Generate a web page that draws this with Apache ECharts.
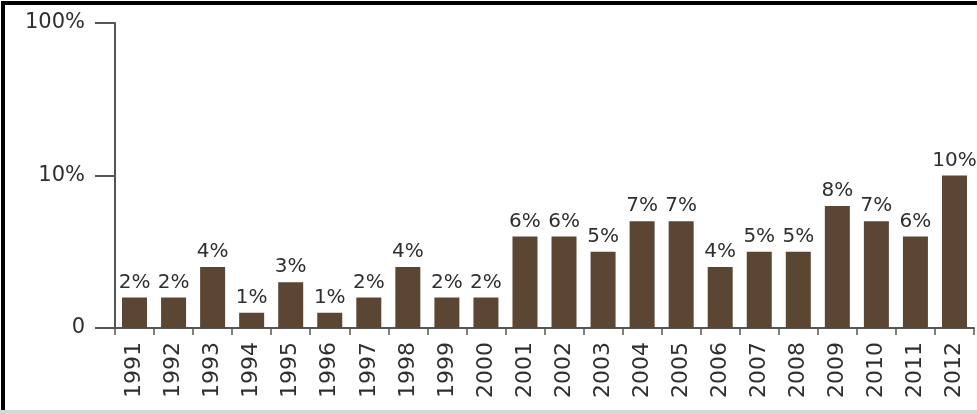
<!DOCTYPE html>
<html>
<head>
<meta charset="utf-8">
<script src="https://cdn.jsdelivr.net/npm/echarts@6/dist/echarts.min.js"></script>
<style>
  html, body { margin: 0; padding: 0; background: #fff; }
  #chart { width: 977px; height: 414px; }
</style>
</head>
<body>
<div id="chart"></div>
<script>
// Years on the category axis
const years = ['1991', '1992', '1993', '1994', '1995', '1996', '1997', '1998', '1999', '2000',
  '2001', '2002', '2003', '2004', '2005', '2006', '2007', '2008', '2009', '2010', '2011', '2012'];

// Share per year, in percent
const shares = [2, 2, 4, 1, 3, 1, 2, 4, 2, 2, 6, 6, 5, 7, 7, 4, 5, 5, 8, 7, 6, 10];

// Value-axis tick labels: the axis runs 0..20, the upper half stands for 10%..100%
const yTickLabels = ['0', '10%', '100%'];

const textColor = '#2f2f2f';
const axisColor = '#555';
const font = '"DejaVu Sans", sans-serif';

const chart = echarts.init(document.getElementById('chart'), null, { renderer: 'canvas' });

chart.setOption({
  animation: false,
  backgroundColor: '#fff',
  grid: { left: 115, right: 3, top: 23, bottom: 86, containLabel: false },
  xAxis: {
    type: 'category',
    data: years,
    axisLine: { show: true, lineStyle: { color: axisColor, width: 2 } },
    axisTick: { show: true, length: 7, lineStyle: { color: axisColor, width: 1.5 } },
    axisLabel: {
      rotate: 90,
      margin: 14,
      interval: 0,
      color: textColor,
      fontFamily: font,
      fontSize: 22
    },
    splitLine: { show: false }
  },
  yAxis: {
    type: 'value',
    min: 0,
    max: 20,
    interval: 10,
    axisLine: { show: true, lineStyle: { color: axisColor, width: 2 } },
    axisTick: { show: true, length: 20, lineStyle: { color: axisColor, width: 2 } },
    axisLabel: {
      margin: 30,
      color: textColor,
      fontFamily: font,
      fontSize: 21,
      formatter: v => yTickLabels[Math.round(v / 10)]
    },
    splitLine: { show: false }
  },
  series: [{
    type: 'bar',
    data: shares,
    barWidth: 25,
    itemStyle: { color: '#5b4634' },
    label: {
      show: true,
      position: 'top',
      distance: 5,
      color: textColor,
      fontFamily: font,
      fontSize: 20,
      formatter: p => p.value + '%'
    }
  }],
  graphic: [
    // frame: heavy left and top rules, light strip along the bottom
    { type: 'rect', left: 1, top: 1, shape: { width: 4, height: 409 }, style: { fill: '#000' }, silent: true },
    { type: 'rect', left: 1, top: 1, shape: { width: 976, height: 4 }, style: { fill: '#000' }, silent: true },
    { type: 'rect', left: 0, top: 410, shape: { width: 977, height: 4 }, style: { fill: '#d6d6d6' }, silent: true }
  ]
});
</script>
</body>
</html>
